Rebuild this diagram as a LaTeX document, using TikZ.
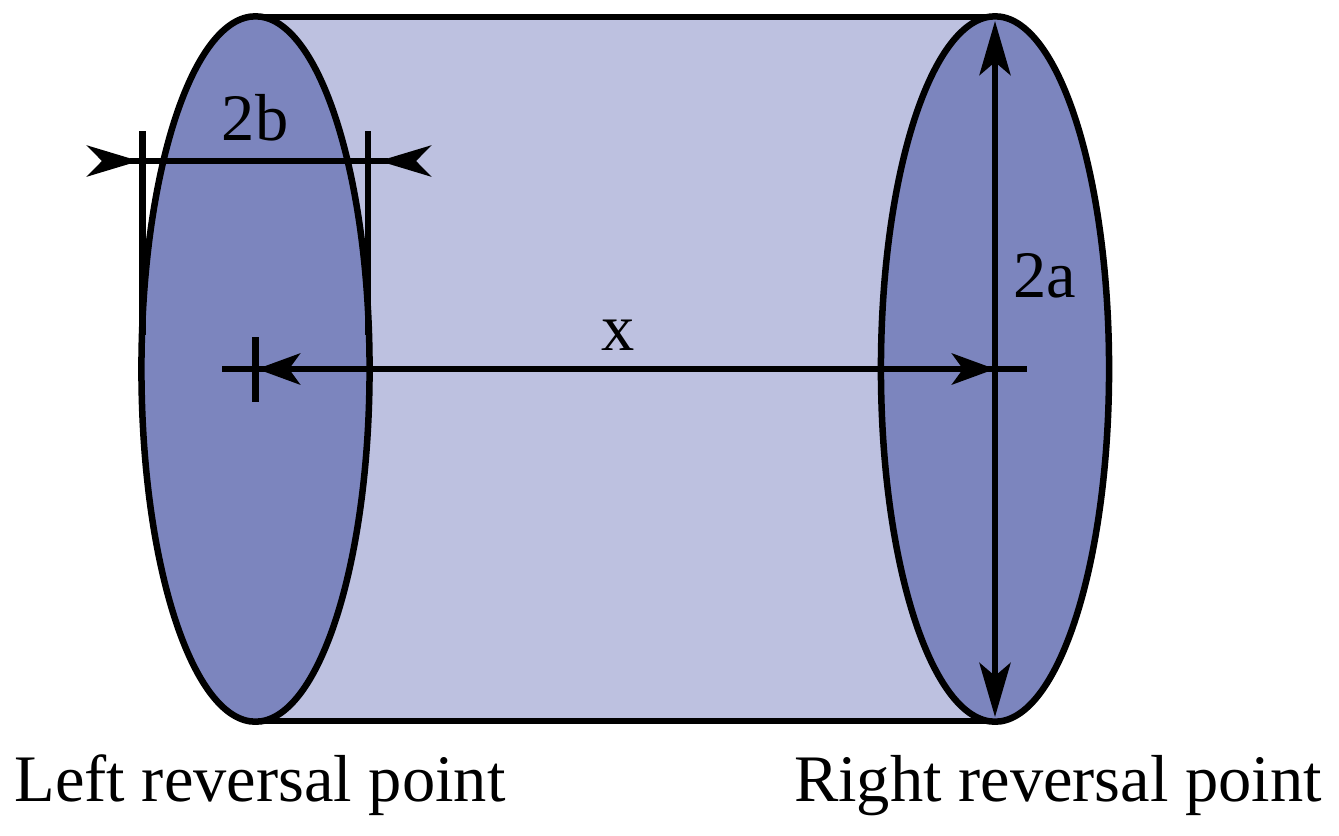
\documentclass[tikz,border=0pt]{standalone}
\usepackage{fontspec}
\setmainfont{Liberation Serif}
\usetikzlibrary{arrows.meta}
\usetikzlibrary{shapes.geometric}
\pgfdeclarelayer{edgelayer}
\pgfdeclarelayer{nodelayer}
\pgfsetlayers{edgelayer,nodelayer,main}
\definecolor{capblue}{HTML}{7C85BE}
\definecolor{bodyblue}{HTML}{BDC1E0}
\tikzset{
  capface/.style={ellipse, draw, fill=capblue, line width=1.85pt, inner sep=0pt, minimum width=2.28cm, minimum height=7.05cm},
  dimline/.style={line width=1.8pt},
  bigtip/.style={line width=1.8pt, -{Stealth[length=0.54cm, width=0.31cm, inset=0.13cm]}},
  midtip/.style={line width=1.8pt, -{Stealth[length=0.43cm, width=0.31cm, inset=0.11cm]}},
  sidetip/.style={line width=1.8pt, -{Stealth[length=0.52cm, width=0.31cm, inset=0.15cm]}},
  label/.style={anchor=base, inner sep=0pt, font=\fontsize{18.9pt}{22pt}\selectfont}
}

\begin{document}
\begin{tikzpicture}[x=0.01cm, y=-0.01cm]
  \useasboundingbox (0, 0) rectangle (1339, 835);
  \begin{pgfonlayer}{nodelayer}
    \coordinate (lefttop) at (255.5, 17);
    \coordinate (leftbot) at (255.5, 721);
    \coordinate (righttop) at (995, 17);
    \coordinate (rightbot) at (995, 721);
    \coordinate (extla) at (142.5, 131);
    \coordinate (extlb) at (142.5, 335);
    \coordinate (extra) at (368, 131);
    \coordinate (extrb) at (368, 335);
    \coordinate (wleftback) at (104, 161);
    \coordinate (wlefttip) at (139, 161);
    \coordinate (wleftend) at (130, 161);
    \coordinate (wrightback) at (414, 161);
    \coordinate (wrighttip) at (379, 161);
    \coordinate (wrightend) at (388, 161);
    \coordinate (tickt) at (255.5, 337);
    \coordinate (tickb) at (255.5, 402);
    \coordinate (xstart) at (222, 369);
    \coordinate (xend) at (1027, 369);
    \coordinate (xltip) at (257, 369);
    \coordinate (xrtip) at (995, 369);
    \coordinate (amid) at (995, 369);
    \coordinate (atop) at (995, 21);
    \coordinate (abot) at (995, 717);
    \node [label] (widthlabel) at (255, 140) {2b};
    \node [label] (heightlabel) at (1045, 297) {2a};
    \node [label] (xlabel) at (618, 350) {x};
    \node [label] (leftname) at (260, 801) {Left reversal point};
    \node [label] (rightname) at (1058, 801) {Right reversal point};
  \end{pgfonlayer}
  \begin{pgfonlayer}{edgelayer}
    \fill [bodyblue] (lefttop) rectangle (rightbot);
    \draw [dimline] (lefttop) to (righttop);
    \draw [dimline] (leftbot) to (rightbot);
    \node [capface] (leftcap) at (255.5, 369) {};
    \node [capface] (rightcap) at (995, 369) {};
    \draw [dimline] (extla) to (extlb);
    \draw [dimline] (extra) to (extrb);
    \draw [dimline] (wleftend) to (wrightend);
    \draw [sidetip] (wleftback) to (wlefttip);
    \draw [sidetip] (wrightback) to (wrighttip);
    \draw [dimline] (tickt) to (tickb);
    \draw [dimline] (xstart) to (xend);
    \draw [midtip] (xrtip) to (xltip);
    \draw [midtip] (xltip) to (xrtip);
    \draw [bigtip] (amid) to (atop);
    \draw [bigtip] (amid) to (abot);
  \end{pgfonlayer}
\end{tikzpicture}
\end{document}
